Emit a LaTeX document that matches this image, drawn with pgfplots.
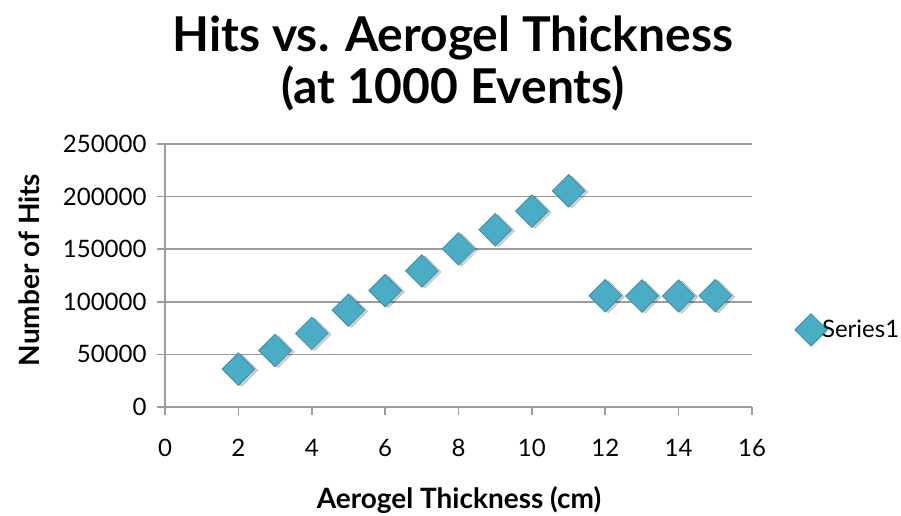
\documentclass[border=0pt]{standalone}
\usepackage{pgfplots}
\pgfplotsset{compat=1.18}
\usepackage{fontspec}
\setmainfont{Lato}
\definecolor{mk}{HTML}{4BACC6}
\definecolor{mkd}{HTML}{3A8FA8}
\definecolor{gridc}{HTML}{9C9C9C}
\begin{document}
\begin{tikzpicture}[x=1pt,y=1pt]
\path[use as bounding box] (-165,-109) rectangle (736,407);
\begin{axis}[
  at={(0,0)}, anchor=south west,
  scale only axis, width=587pt, height=263pt,
  xmin=0, xmax=16, ymin=0, ymax=250000,
  xtick={0,2,...,16}, ytick={0,50000,...,250000},
  axis x line*=bottom, axis y line*=left,
  ymajorgrids, grid style={gridc, line width=1.6pt},
  axis line style={gridc, line width=1.6pt},
  tick style={gridc, line width=1.6pt},
  major tick length=8pt, tick align=outside,
  scaled y ticks=false,
  /pgf/number format/assume math mode=true,
  yticklabel={\pgfmathprintnumber[fixed,1000 sep={}]{\tick}},
  ticklabel style={font=\fontsize{24}{28}\selectfont, text=black},
  yticklabel style={xshift=-7pt},
  xticklabel style={yshift=-21pt},
  legend style={at={(1.073,0.293)}, anchor=west, draw=none, fill=none,
    font=\fontsize{24}{28}\selectfont, inner sep=0pt,
    nodes={inner sep=1pt}},
  legend image code/.code={%
    \pgfpathrectanglecorners{\pgfpoint{-16pt}{-5pt}}{\pgfpoint{10pt}{5pt}}%
    \pgfusepath{use as bounding box}%
    \draw[#1] plot coordinates {(0pt,0pt)};},
  legend cell align=left,
  clip=false,
]
\addplot[only marks, mark=square*, mark size=11.5pt, forget plot,
  mark options={rotate=45, fill=black, draw=none, opacity=0.18, xshift=1.5pt, yshift=-3pt}]
  coordinates {
  (2,36000) (3,53700) (4,70000) (5,92000) (6,110600) (7,129300)
  (8,150300) (9,168400) (10,186200) (11,205500) (12,105800)
  (13,105500) (14,105500) (15,105800)
  };
\addplot[only marks, mark=square*, mark size=11.5pt,
  mark options={rotate=45, fill=mk, draw=mkd, line width=0.8pt}]
  coordinates {
  (2,36000) (3,53700) (4,70000) (5,92000) (6,110600) (7,129300)
  (8,150300) (9,168400) (10,186200) (11,205500) (12,105800)
  (13,105500) (14,105500) (15,105800)
  };
\addlegendentry{Series1}
\end{axis}
\node[anchor=base, font=\bfseries\fontsize{48}{52}\selectfont] at (288,355) {Hits vs. Aerogel Thickness};
\node[anchor=base, font=\bfseries\fontsize{48}{52}\selectfont] at (288,303) {(at 1000 Events)};
\node[rotate=90, font=\bfseries\fontsize{28}{32}\selectfont] at (-136,137) {Number of Hits};
\node[anchor=base, font=\bfseries\fontsize{28}{32}\selectfont] at (294,-101) {Aerogel Thickness (cm)};
\end{tikzpicture}
\end{document}
